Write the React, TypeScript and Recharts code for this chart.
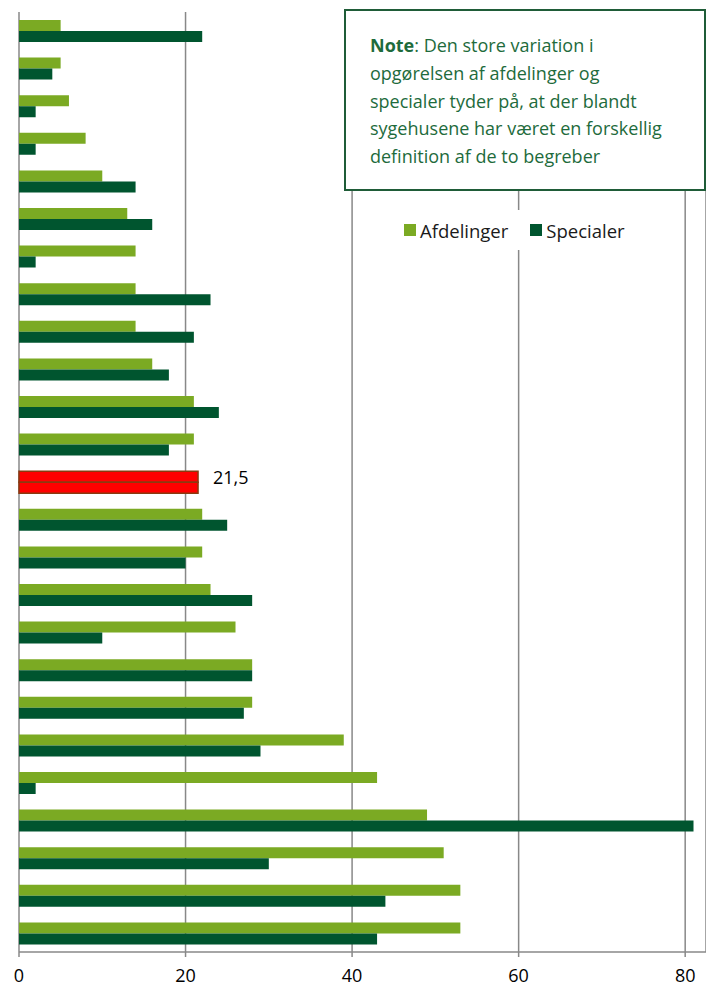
import React from 'react';
import {
  BarChart,
  Bar,
  XAxis,
  YAxis,
  CartesianGrid,
  Cell,
  LabelList,
} from 'recharts';

// One row per sygehus, sorted by number of afdelinger; row 13 is the average
const sygehuse = [
  'Sygehus 1', 'Sygehus 2', 'Sygehus 3', 'Sygehus 4', 'Sygehus 5',
  'Sygehus 6', 'Sygehus 7', 'Sygehus 8', 'Sygehus 9', 'Sygehus 10',
  'Sygehus 11', 'Sygehus 12', 'Gennemsnit', 'Sygehus 13', 'Sygehus 14',
  'Sygehus 15', 'Sygehus 16', 'Sygehus 17', 'Sygehus 18', 'Sygehus 19',
  'Sygehus 20', 'Sygehus 21', 'Sygehus 22', 'Sygehus 23', 'Sygehus 24',
];
const afdelinger = [5, 5, 6, 8, 10, 13, 14, 14, 14, 16, 21, 21, 21.5, 22, 22, 23, 26, 28, 28, 39, 43, 49, 51, 53, 53];
const specialer = [22, 4, 2, 2, 14, 16, 2, 23, 21, 18, 24, 18, 21.5, 25, 20, 28, 10, 28, 27, 29, 2, 81, 30, 44, 43];
const gennemsnitNavn = 'Gennemsnit';
const xTicks = [0, 20, 40, 60, 80];
const serier = [
  { key: 'afdelinger', label: 'Afdelinger', color: '#7BAA23' },
  { key: 'specialer', label: 'Specialer', color: '#00552F' },
];

const data = sygehuse.map((navn, i) => ({
  navn,
  afdelinger: afdelinger[i],
  specialer: specialer[i],
}));

const FONT = '"Open Sans", Lato, sans-serif';
const RED = '#FF0000';
const RED_EDGE = '#8A3A10';
const GRID = '#888888';

// value label only on the average row, written with a decimal comma
const AverageLabel = (props: any) => {
  const { x, y, width, height, value, index } = props;
  if (data[index]?.navn !== gennemsnitNavn) return null;
  return (
    <text
      x={x + width + 15}
      y={y + height}
      dy={2}
      fontFamily={FONT}
      fontSize={18}
      fill="#000"
      textAnchor="start"
    >
      {String(value).replace('.', ',')}
    </text>
  );
};

export default function App() {
  return (
    <div style={{ position: 'absolute', left: 0, top: 0, width: 706, height: 988, background: '#fff' }}>
      <BarChart
        width={706}
        height={988}
        data={data}
        layout="vertical"
        margin={{ top: 12, right: 0, bottom: 0, left: 19 }}
        barGap={0}
        barSize={11}
      >
        <CartesianGrid horizontal={false} stroke={GRID} strokeWidth={1.5} />
        <XAxis
          type="number"
          domain={[0, 82.5]}
          ticks={xTicks}
          height={36}
          axisLine={{ stroke: GRID, strokeWidth: 1.5 }}
          tickLine={{ stroke: GRID, strokeWidth: 1.5 }}
          tickSize={5}
          tickMargin={12}
          tick={{ fill: '#000', fontSize: 18, fontFamily: FONT }}
        />
        <YAxis type="category" dataKey="navn" hide />
        {serier.map((s, si) => (
          <Bar key={s.key} dataKey={s.key} name={s.label} fill={s.color} isAnimationActive={false}>
            {data.map((d) => (
              <Cell
                key={d.navn}
                fill={d.navn === gennemsnitNavn ? RED : s.color}
                stroke={d.navn === gennemsnitNavn ? RED_EDGE : 'none'}
                strokeWidth={1.5}
              />
            ))}
            {si === 0 && <LabelList dataKey={s.key} content={<AverageLabel />} />}
          </Bar>
        ))}
      </BarChart>

      {/* legend */}
      <div
        style={{
          position: 'absolute',
          left: 394,
          top: 210,
          height: 40,
          background: '#fff',
          display: 'flex',
          alignItems: 'center',
          gap: 22,
          padding: '0 10px',
          fontFamily: FONT,
          fontSize: 18.5,
          color: '#1a1a1a',
        }}
      >
        {serier.map((s) => (
          <div key={s.key} style={{ display: 'flex', alignItems: 'center', gap: 4 }}>
            <span style={{ width: 12, height: 12, background: s.color, display: 'inline-block' }} />
            <span>{s.label}</span>
          </div>
        ))}
      </div>

      {/* note box */}
      <div
        style={{
          position: 'absolute',
          left: 344,
          top: 9,
          width: 362,
          height: 182,
          boxSizing: 'border-box',
          border: '2px solid #1F5C38',
          background: '#fff',
          padding: '21px 6px 0 24px',
          fontFamily: FONT,
          fontSize: 18,
          lineHeight: '27.8px',
          color: '#1E6B3C',
          whiteSpace: 'nowrap',
        }}
      >
        <b>Note</b>: Den store variation i<br />
        opgørelsen af afdelinger og<br />
        specialer tyder på, at der blandt<br />
        sygehusene har været en forskellig<br />
        definition af de to begreber
      </div>
    </div>
  );
}
